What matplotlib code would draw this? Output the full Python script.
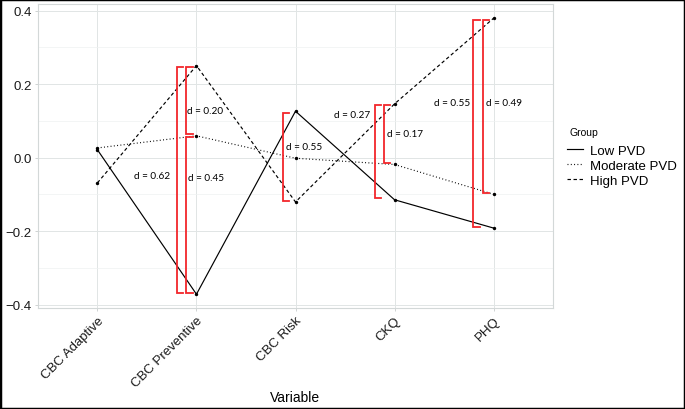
import matplotlib
matplotlib.use("Agg")
import matplotlib.pyplot as plt
from matplotlib.lines import Line2D
from matplotlib.patches import Rectangle
from matplotlib.ticker import MultipleLocator

# ---- data ----
variables = ["CBC Adaptive", "CBC Preventive", "CBC Risk", "CKQ", "PHQ"]
groups = ["Low PVD", "Moderate PVD", "High PVD"]
low_pvd = [0.021, -0.372, 0.126, -0.115, -0.192]
moderate_pvd = [0.026, 0.059, -0.002, -0.019, -0.100]
high_pvd = [-0.069, 0.250, -0.121, 0.146, 0.379]

# effect-size brackets: (variable, group A, group B, label)
bracket_vars = ["CBC Preventive", "CBC Preventive", "CBC Preventive", "CBC Risk",
                "CKQ", "CKQ", "PHQ", "PHQ"]
bracket_a = ["High PVD", "High PVD", "Moderate PVD", "Low PVD",
             "High PVD", "High PVD", "High PVD", "High PVD"]
bracket_b = ["Low PVD", "Moderate PVD", "Low PVD", "High PVD",
             "Low PVD", "Moderate PVD", "Low PVD", "Moderate PVD"]
bracket_labels = ["d = 0.62", "d = 0.20", "d = 0.45", "d = 0.55",
                  "d = 0.27", "d = 0.17", "d = 0.55", "d = 0.49"]

# ---- layout / style (positions of brackets & labels relative to category) ----
bracket_dx = [-0.197, -0.105, -0.105, -0.13, -0.20, -0.11, -0.205, -0.107]
label_dx = [-0.45, 0.085, 0.10, 0.09, -0.43, 0.105, -0.42, 0.11]
label_y = [-0.048, 0.129, -0.055, 0.031, 0.116, 0.064, 0.151, 0.151]

series = {"Low PVD": low_pvd, "Moderate PVD": moderate_pvd, "High PVD": high_pvd}
styles = {"Low PVD": "-",
          "Moderate PVD": (0, (0.8, 2.0)),
          "High PVD": (0, (2.9, 2.2))}

W, H = 685, 410
fig = plt.figure(figsize=(W / 100, H / 100), dpi=100)
ax = fig.add_axes([38 / W, 1 - 309 / H, (553 - 38) / W, (309 - 5) / H])

xpos = list(range(1, len(variables) + 1))
for g in groups:
    ax.plot(xpos, series[g], color="black", lw=0.85, linestyle=styles[g],
            zorder=3, label=g)
    ax.scatter(xpos, series[g], s=6, color="black", zorder=4, linewidths=0)

tick = 0.065
gap = 0.004
for v, a, b, lab, dx, ldx, ly in zip(bracket_vars, bracket_a, bracket_b,
                                     bracket_labels, bracket_dx, label_dx, label_y):
    i = variables.index(v)
    ya = series[a][i]
    yb = series[b][i]
    top, bot = max(ya, yb) - gap, min(ya, yb) + gap
    x0 = i + 1 + dx
    ax.plot([x0 + tick, x0, x0, x0 + tick], [top, top, bot, bot],
            color="#f2262b", lw=1.3, solid_joinstyle="miter", zorder=5)
    ax.text(i + 1 + ldx, ly, lab, ha="center", va="center",
            fontsize=7.2, family=["Lato", "DejaVu Sans"], color="black", zorder=6)

ax.set_xlim(0.4, 5.6)
ax.set_ylim(-0.4095, 0.4177)
ax.set_xticks(xpos)
ax.set_xticklabels(variables, rotation=45, ha="right", va="top",
                   rotation_mode="anchor", fontsize=9.5,
                   family=["Liberation Sans", "DejaVu Sans"], color="#1a1a1a")
ax.yaxis.set_major_locator(MultipleLocator(0.2))
ax.yaxis.set_minor_locator(MultipleLocator(0.1))
ax.set_yticks([-0.4, -0.2, 0.0, 0.2, 0.4])
ax.set_yticklabels(["\u22120.4", "\u22120.2", "0.0", "0.2", "0.4"],
                   fontsize=9.5, family=["Liberation Sans", "DejaVu Sans"],
                   color="#1a1a1a")
ax.tick_params(axis="both", which="major", length=2.5, width=0.6,
               color="#c8cccc", pad=2)
ax.tick_params(axis="y", which="minor", length=0)

ax.grid(True, which="major", color="#e1e5e5", lw=0.7, zorder=0)
ax.grid(True, which="minor", axis="y", color="#eef1f1", lw=0.5, zorder=0)
ax.set_axisbelow(True)
for s in ax.spines.values():
    s.set_color("#d3d8d8")
    s.set_linewidth(0.8)

fig.text((38 + 553) / 2 / W, 1 - 398 / H, "Variable", ha="center", va="center",
         fontsize=10, family=["Liberation Sans", "DejaVu Sans"])

fig.text(569 / W, 1 - 133 / H, "Group", ha="left", va="center",
         fontsize=7.5, family=["Liberation Sans", "DejaVu Sans"])
handles = [Line2D([0], [0], color="black", lw=0.85, linestyle=styles[g]) for g in groups]
leg = fig.legend(handles, groups, loc="upper left",
                 bbox_to_anchor=(567 / W, 1 - 145.5 / H), frameon=False,
                 borderpad=0, borderaxespad=0, handlelength=1.2,
                 handletextpad=0.55, labelspacing=0.22,
                 prop={"family": ["Liberation Sans", "DejaVu Sans"], "size": 9.5})

fig.patches.append(Rectangle((0, 0), 1, 1, transform=fig.transFigure,
                             fill=False, edgecolor="black", lw=2.5, zorder=10))

fig.savefig("out.png", dpi=100)
